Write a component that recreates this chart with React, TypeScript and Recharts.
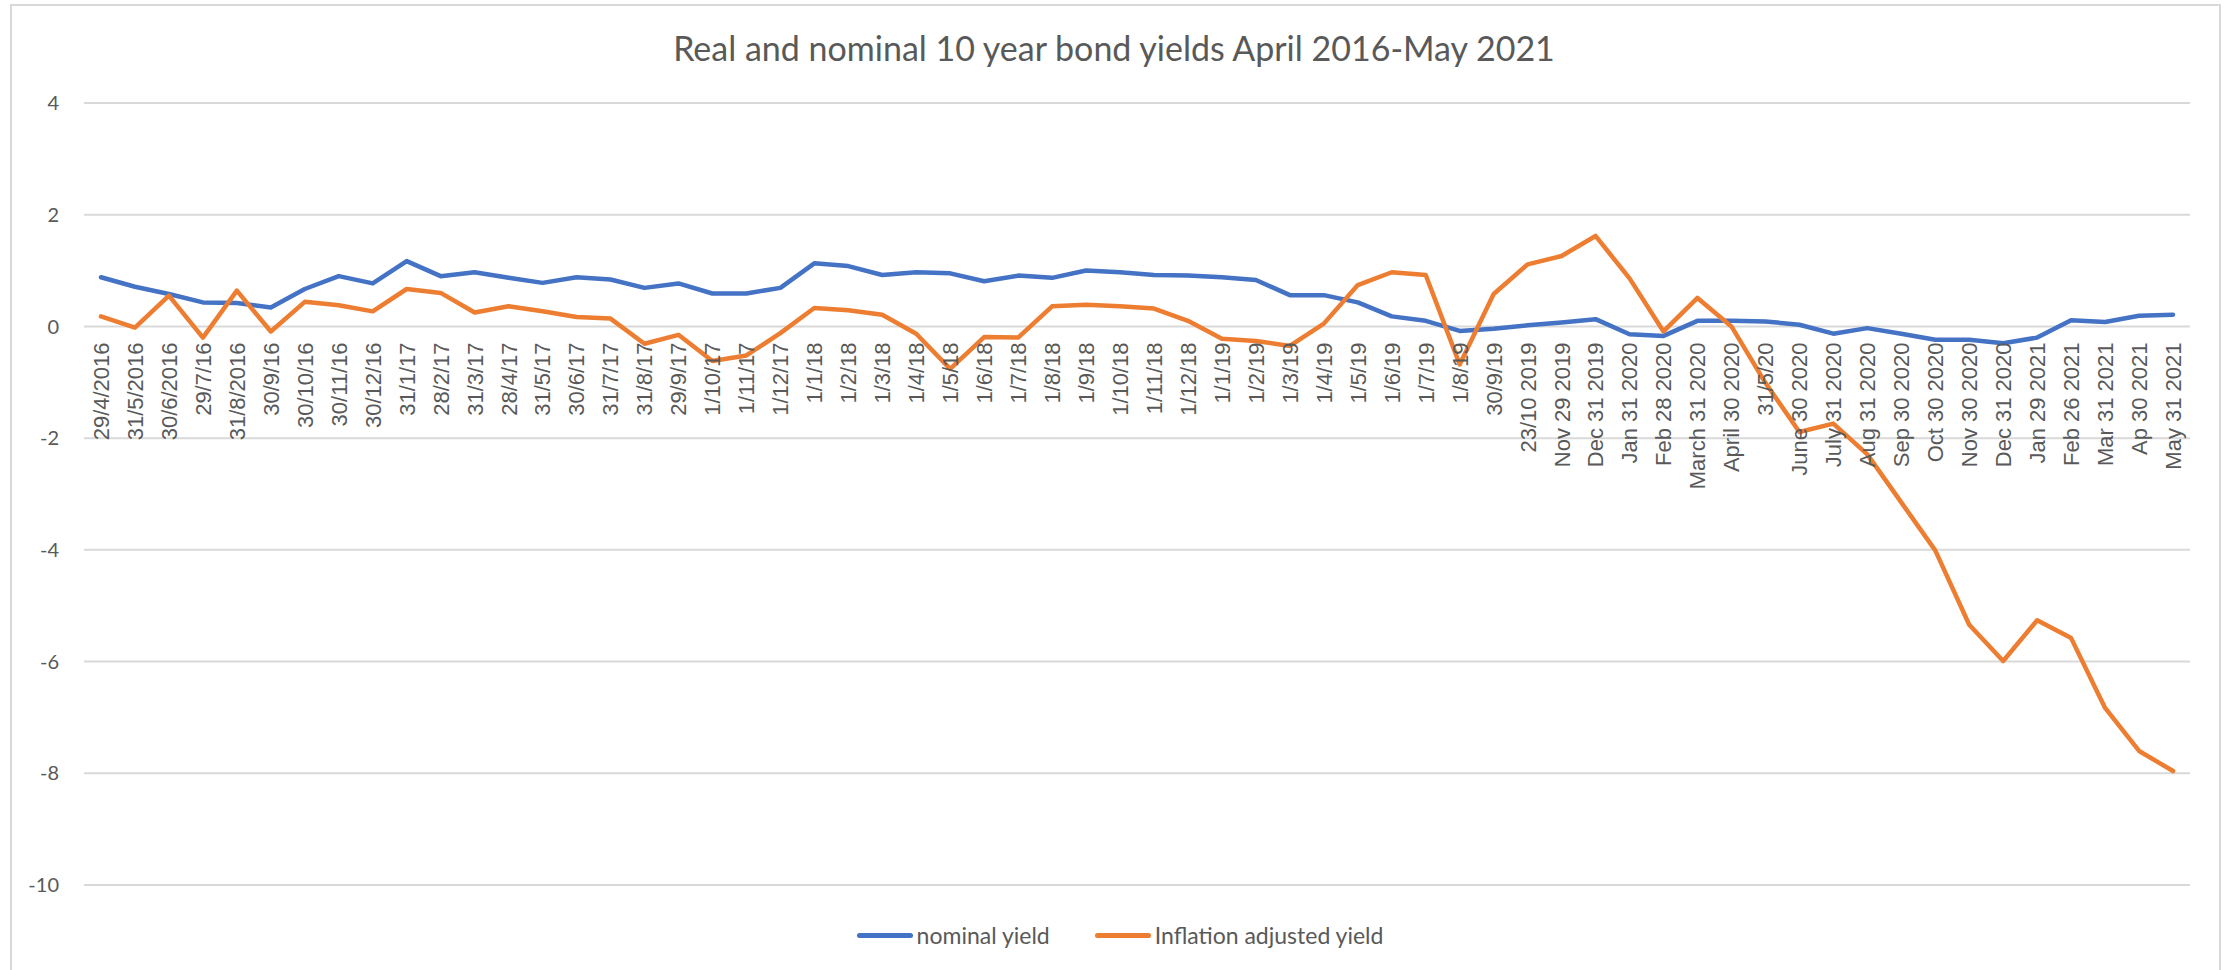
import React from "react";
import { LineChart, Line, XAxis, YAxis, CartesianGrid, Legend } from "recharts";

const TITLE = "Real and nominal 10 year bond yields April 2016-May 2021";

const dates: string[] = [
  "29/4/2016", "31/5/2016", "30/6/2016", "29/7/16", "31/8/2016", "30/9/16", "30/10/16", "30/11/16", "30/12/16",
  "31/1/17", "28/2/17", "31/3/17", "28/4/17", "31/5/17", "30/6/17", "31/7/17", "31/8/17", "29/9/17", "1/10/17",
  "1/11/17", "1/12/17", "1/1/18", "1/2/18", "1/3/18", "1/4/18", "1/5/18", "1/6/18", "1/7/18", "1/8/18", "1/9/18",
  "1/10/18", "1/11/18", "1/12/18", "1/1/19", "1/2/19", "1/3/19", "1/4/19", "1/5/19", "1/6/19", "1/7/19", "1/8/19",
  "30/9/19", "23/10 2019", "Nov 29 2019", "Dec 31 2019", "Jan 31 2020", "Feb 28 2020", "March 31 2020",
  "April 30 2020", "31/5/20", "June 30 2020", "July 31 2020", "Aug 31 2020", "Sep 30 2020", "Oct 30 2020",
  "Nov 30 2020", "Dec 31 2020", "Jan 29 2021", "Feb 26 2021", "Mar 31 2021", "Ap 30 2021", "May 31 2021",
];

const nominalYield: number[] = [
  0.88, 0.71, 0.58, 0.43, 0.42, 0.34, 0.67, 0.9, 0.77,
  1.17, 0.9, 0.97, 0.87, 0.78, 0.88, 0.84, 0.69, 0.77, 0.59,
  0.59, 0.69, 1.13, 1.08, 0.92, 0.97, 0.95, 0.81, 0.91, 0.87, 1.0,
  0.97, 0.92, 0.91, 0.88, 0.83, 0.56, 0.56, 0.43, 0.18, 0.1, -0.08,
  -0.04, 0.02, 0.07, 0.13, -0.14, -0.17, 0.1,
  0.1, 0.09, 0.03, -0.13, -0.03, -0.13, -0.24,
  -0.24, -0.3, -0.2, 0.11, 0.08, 0.19, 0.21,
];

const inflationAdjustedYield: number[] = [
  0.18, -0.02, 0.55, -0.2, 0.64, -0.09, 0.44, 0.38, 0.27,
  0.67, 0.6, 0.25, 0.36, 0.27, 0.17, 0.14, -0.31, -0.15, -0.62,
  -0.52, -0.12, 0.33, 0.29, 0.21, -0.13, -0.76, -0.19, -0.2, 0.36, 0.39,
  0.36, 0.32, 0.1, -0.22, -0.26, -0.35, 0.05, 0.74, 0.97, 0.92, -0.68,
  0.58, 1.11, 1.26, 1.62, 0.86, -0.09, 0.51,
  0.0, -1.01, -1.89, -1.74, -2.29, -3.15, -4.01,
  -5.34, -5.99, -5.26, -5.58, -6.83, -7.6, -7.96,
];

const seriesNames: string[] = ["nominal yield", "Inflation adjusted yield"];
const yTicks: number[] = [-10, -8, -6, -4, -2, 0, 2, 4];
const Y_MIN = -10;
const Y_MAX = 4;

const data = dates.map((d, i) => ({
  date: d,
  nominal: nominalYield[i],
  inflation: inflationAdjustedYield[i],
}));

const W = 2234;
const H = 970;
const PLOT_TOP = 103;
const PLOT_BOTTOM = 885;
const PLOT_LEFT = 84;
const PLOT_RIGHT = 2190;
const Y_AXIS_W = 60;
const X_AXIS_H = 1;
const TEXT = "#595959";
const GRID = "#d9d9d9";
const BLUE = "#4472C4";
const ORANGE = "#ED7D31";
const HALF_BAND = (PLOT_RIGHT - PLOT_LEFT) / dates.length / 2;

const zeroY = PLOT_TOP + ((PLOT_BOTTOM - PLOT_TOP) * (Y_MAX - 0)) / (Y_MAX - Y_MIN);

const XTick = (props: any) => {
  const { x, payload } = props;
  const y0 = zeroY + 16;
  return (
    <text
      x={x}
      y={y0}
      transform={`rotate(-90, ${x}, ${y0})`}
      textAnchor="end"
      dy="0.36em"
      fill={TEXT}
      fontFamily="'Liberation Sans', Arial, sans-serif"
      fontSize={22}
    >
      {payload.value}
    </text>
  );
};

const LegendContent = (props: any) => {
  const items = [...(props.payload || [])].sort(
    (a: any, b: any) => seriesNames.indexOf(a.value) - seriesNames.indexOf(b.value)
  );
  return (
    <div
      style={{
        display: "flex",
        justifyContent: "center",
        alignItems: "center",
        gap: 45,
        paddingLeft: 6,
        fontFamily: "Lato, 'Open Sans', sans-serif",
        fontSize: 23,
        color: TEXT,
      }}
    >
      {items.map((it: any) => (
        <div key={it.value} style={{ display: "flex", alignItems: "center" }}>
          <span
            style={{
              display: "inline-block",
              width: 56,
              height: 5,
              borderRadius: 3,
              background: it.color,
              marginRight: 4,
            }}
          />
          <span>{it.value}</span>
        </div>
      ))}
    </div>
  );
};

export default function App() {
  return (
    <div
      style={{
        position: "absolute",
        left: 0,
        top: 0,
        width: W,
        height: H,
        overflow: "hidden",
        background: "#fff",
      }}
    >
      <div
        style={{
          position: "absolute",
          left: 10,
          top: 4,
          width: 2211,
          height: 1000,
          boxSizing: "border-box",
          border: `2px solid ${GRID}`,
        }}
      />
      <svg style={{ position: "absolute", left: 0, top: 0 }} width={W} height={80}>
        <text
          x={1114}
          y={61}
          textAnchor="middle"
          fill={TEXT}
          fontFamily="Lato, 'Open Sans', sans-serif"
          fontSize={34}
        >
          {TITLE}
        </text>
      </svg>
      <div style={{ position: "absolute", left: 0, top: 0 }}>
        <LineChart
          width={W}
          height={H}
          data={data}
          margin={{
            top: PLOT_TOP,
            right: W - PLOT_RIGHT,
            bottom: H - PLOT_BOTTOM - X_AXIS_H,
            left: PLOT_LEFT - Y_AXIS_W,
          }}
        >
          <CartesianGrid vertical={false} stroke={GRID} strokeWidth={2} />
          <XAxis
            dataKey="date"
            interval={0}
            height={X_AXIS_H}
            axisLine={false}
            tickLine={false}
            padding={{ left: HALF_BAND, right: HALF_BAND }}
            tick={<XTick />}
          />
          <YAxis
            type="number"
            domain={[Y_MIN, Y_MAX]}
            ticks={yTicks}
            width={Y_AXIS_W}
            axisLine={false}
            tickLine={false}
            tickSize={0}
            tickMargin={25}
            tick={{ fill: TEXT, fontSize: 20, fontFamily: "Lato, 'Open Sans', sans-serif" }}
            allowDataOverflow
          />
          <Line
            type="linear"
            dataKey="nominal"
            name={seriesNames[0]}
            stroke={BLUE}
            strokeWidth={4.5}
            dot={false}
            strokeLinejoin="round"
            strokeLinecap="round"
            isAnimationActive={false}
          />
          <Line
            type="linear"
            dataKey="inflation"
            name={seriesNames[1]}
            stroke={ORANGE}
            strokeWidth={4.5}
            dot={false}
            strokeLinejoin="round"
            strokeLinecap="round"
            isAnimationActive={false}
          />
          <Legend
            layout="horizontal"
            verticalAlign="middle"
            align="center"
            wrapperStyle={{ top: 921, left: 0, width: W, height: 32 }}
            content={<LegendContent />}
          />
        </LineChart>
      </div>
    </div>
  );
}
